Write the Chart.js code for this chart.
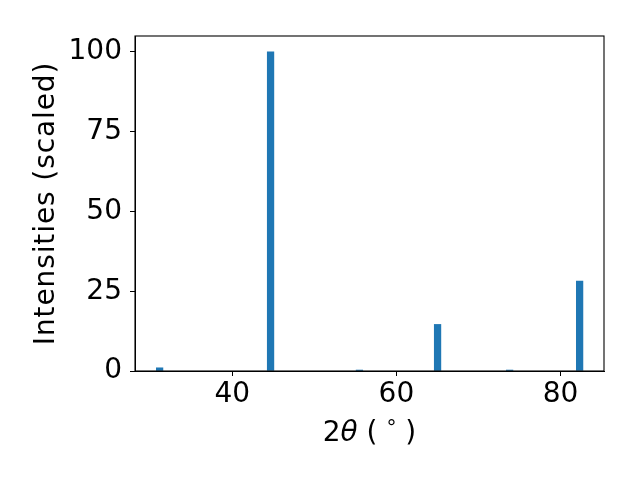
<!DOCTYPE html>
<html>
<head>
<meta charset="utf-8">
<script src="https://cdn.jsdelivr.net/npm/chart.js@4"></script>
<style>
  html, body { margin: 0; padding: 0; background: #fff; }
  #wrap { width: 640px; height: 480px; }
</style>
</head>
<body>
<div id="wrap"><canvas id="xrdChart" width="640" height="480"></canvas></div>
<script>
// peak positions (2theta, degrees) and scaled intensities
const twoTheta = [31.15, 44.67, 55.5, 65.02, 73.8, 82.33]
const intensity = [1.0, 100, 0.3, 14.6, 0.3, 28.2]

const xTicks = [40, 60, 80]
const yTicks = [0, 25, 50, 75, 100]

const font = 'DejaVu Sans'
const fontSize = 28

let points = []
twoTheta.forEach((t, i) => {
    points.push({ x: t, y: intensity[i] })
})

// box round the plot plus axis titles (the x one has an italic theta)
const frameAndTitles = {
    id: 'frameAndTitles',
    afterDraw(chart) {
        const ctx = chart.ctx
        const a = chart.chartArea
        ctx.save()
        ctx.strokeStyle = '#000'
        ctx.lineWidth = 1.1
        ctx.strokeRect(a.left, a.top, a.right - a.left, a.bottom - a.top)

        ctx.fillStyle = '#000'
        ctx.textBaseline = 'alphabetic'

        // x title: 2θ ( ° )
        const parts = [
            { t: '2', f: fontSize + 'px "' + font + '"', dy: 0 },
            { t: 'θ', f: 'italic ' + fontSize + 'px "' + font + '"', dy: 0 },
            { t: ' ( ', f: fontSize + 'px "' + font + '"', dy: 0 },
            { t: '°', f: '20px "' + font + '"', dy: -7 },
            { t: ' )', f: fontSize + 'px "' + font + '"', dy: 0 }
        ]
        let total = 0
        parts.forEach(p => { ctx.font = p.f; p.w = ctx.measureText(p.t).width; total += p.w })
        let x = (a.left + a.right) / 2 - total / 2
        const base = 441
        parts.forEach(p => {
            ctx.font = p.f
            ctx.textAlign = 'left'
            ctx.fillText(p.t, x, base + p.dy)
            x += p.w
        })

        // y title
        ctx.translate(54, (a.top + a.bottom) / 2)
        ctx.rotate(-Math.PI / 2)
        ctx.font = fontSize + 'px "' + font + '"'
        ctx.letterSpacing = '0.9px'
        ctx.textAlign = 'center'
        ctx.fillText('Intensities (scaled)', 0, 0)
        ctx.restore()
    }
}

new Chart(document.getElementById('xrdChart'), {
    type: 'bar',
    data: {
        datasets: [{
            label: 'XRD',
            data: points,
            backgroundColor: '#1f77b4',
            borderWidth: 0,
            barThickness: 6.6
        }]
    },
    options: {
        responsive: false,
        animation: false,
        layout: { padding: { top: 36, right: 36, left: 0, bottom: 0 } },
        plugins: {
            legend: { display: false },
            tooltip: { enabled: false }
        },
        scales: {
            x: {
                type: 'linear',
                min: 28.15,
                max: 85.3,
                offset: false,
                afterBuildTicks: scale => { scale.ticks = xTicks.map(v => ({ value: v })) },
                afterFit: scale => { scale.height = 109 },
                grid: { offset: false, drawOnChartArea: false, drawTicks: true, tickLength: 5, tickColor: '#000', tickWidth: 1 },
                border: { display: true, color: '#000', width: 1 },
                ticks: { color: '#000', font: { family: font, size: fontSize }, padding: 2, maxRotation: 0 }
            },
            y: {
                min: 0,
                max: 105,
                afterBuildTicks: scale => { scale.ticks = yTicks.map(v => ({ value: v })) },
                afterFit: scale => { scale.width = 135 },
                grid: { drawOnChartArea: false, drawTicks: true, tickLength: 5, tickColor: '#000', tickWidth: 1 },
                border: { display: true, color: '#000', width: 1 },
                ticks: { color: '#000', font: { family: font, size: fontSize }, padding: 8 }
            }
        }
    },
    plugins: [frameAndTitles]
})
</script>
</body>
</html>
